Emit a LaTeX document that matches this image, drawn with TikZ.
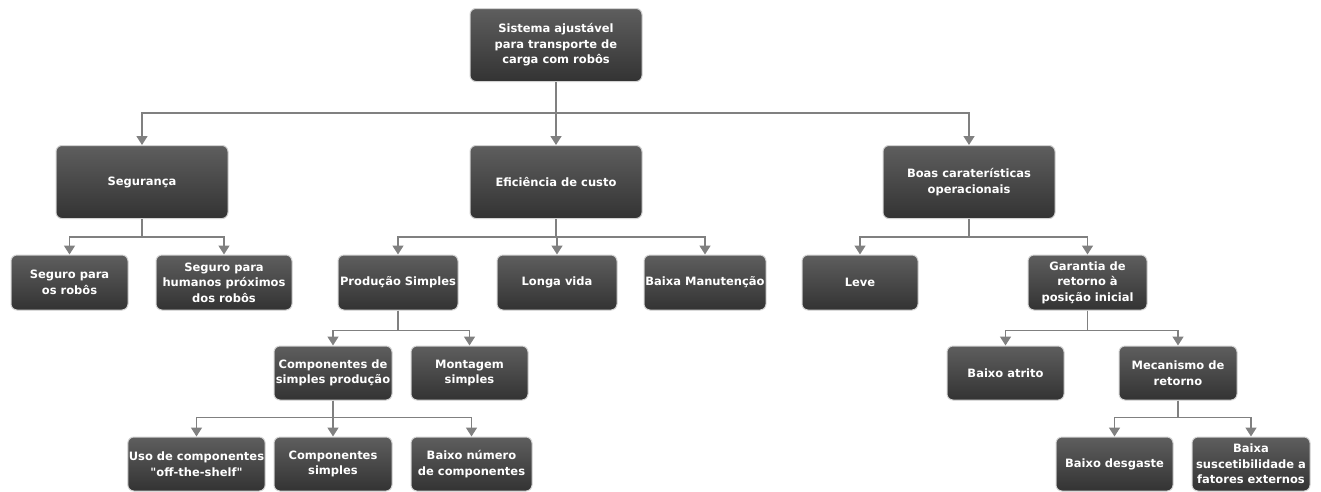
\documentclass[tikz,border=0pt]{standalone}
\usepackage{fontspec}
\setmainfont{DejaVu Sans}[Ligatures=TeXOff]
\usetikzlibrary{arrows.meta}
\definecolor{boxtop}{HTML}{5E5E5E}
\definecolor{boxbot}{HTML}{333333}
\definecolor{linegray}{HTML}{808080}
\tikzset{box/.style={rectangle,draw=gray!35,line width=1pt,rounded corners=6pt,align=center,inner sep=1pt,top color=boxtop,bottom color=boxbot,text=white,font=\bfseries\fontsize{11.5}{15.5}\selectfont,minimum height=55pt},
  big/.style={box,minimum width=172pt,minimum height=73pt},
  line/.style={draw=linegray,line width=1.6pt,-{Triangle[width=11pt,length=9pt]}}}

\begin{document}
\begin{tikzpicture}[x=1pt,y=-1pt]
\useasboundingbox (0,0) rectangle (1321,491);
% level 0 and 1
\node[big] (root) at (556,45) {Sistema ajustável\\para transporte de\\carga com robôs};
\node[big] (seg) at (142,182) {Segurança};
\node[big] (cost) at (556,182) {Eficiência de custo};
\node[big] (oper) at (969,182) {Boas caraterísticas\\operacionais};
% level 2
\node[box, minimum width=117pt] (robots) at (69.5,282.5) {Seguro para\\os robôs};
\node[box, minimum width=136pt] (humans) at (224,282.5) {Seguro para\\humanos próximos\\dos robôs};
\node[box, minimum width=120pt] (prod) at (398,282.5) {Produção Simples};
\node[box, minimum width=120pt] (life) at (557,282.5) {Longa vida};
\node[box, minimum width=122pt] (maint) at (705,282.5) {Baixa Manutenção};
\node[box, minimum width=116pt] (light) at (860,282.5) {Leve};
\node[box, minimum width=119pt] (ret) at (1087.5,282.5) {Garantia de\\retorno à\\posição inicial};
% level 3
\node[box, minimum width=118pt, minimum height=54pt] (parts) at (333,373) {Componentes de\\simples produção};
\node[box, minimum width=117pt, minimum height=54pt] (assy) at (469.5,373) {Montagem\\simples};
\node[box, minimum width=117pt, minimum height=54pt] (fric) at (1005.5,373) {Baixo atrito};
\node[box, minimum width=118pt, minimum height=54pt] (mech) at (1178,373) {Mecanismo de\\retorno};
% level 4
\node[box, minimum width=137pt, minimum height=54pt] (shelf) at (196.5,464) {Uso de componentes\\"off-the-shelf"};
\node[box, minimum width=118pt, minimum height=54pt] (simple) at (333,464) {Componentes\\simples};
\node[box, minimum width=121pt, minimum height=54pt] (few) at (471.5,464) {Baixo número\\de componentes};
\node[box, minimum width=117pt, minimum height=54pt] (wear) at (1114.5,464) {Baixo desgaste};
\node[box, minimum width=118pt, minimum height=54pt] (ext) at (1251,464) {Baixa\\suscetibilidade a\\fatores externos};
% connectors
\foreach \c in {seg,cost,oper} \draw[line] (root.south) -- ++(0,31) -| (\c.north);
\foreach \c in {robots,humans} \draw[line] (seg.south) -- ++(0,18) -| (\c.north);
\foreach \c in {prod,life,maint} \draw[line] (cost.south) -- ++(0,18) -| (\c.north);
\foreach \c in {light,ret} \draw[line] (oper.south) -- ++(0,18) -| (\c.north);
\foreach \c in {parts,assy} \draw[line] (prod.south) -- ++(0,20) -| (\c.north);
\foreach \c in {fric,mech} \draw[line] (ret.south) -- ++(0,20) -| (\c.north);
\foreach \c in {shelf,simple,few} \draw[line] (parts.south) -- ++(0,17) -| (\c.north);
\foreach \c in {wear,ext} \draw[line] (mech.south) -- ++(0,17) -| (\c.north);
\end{tikzpicture}
\end{document}
